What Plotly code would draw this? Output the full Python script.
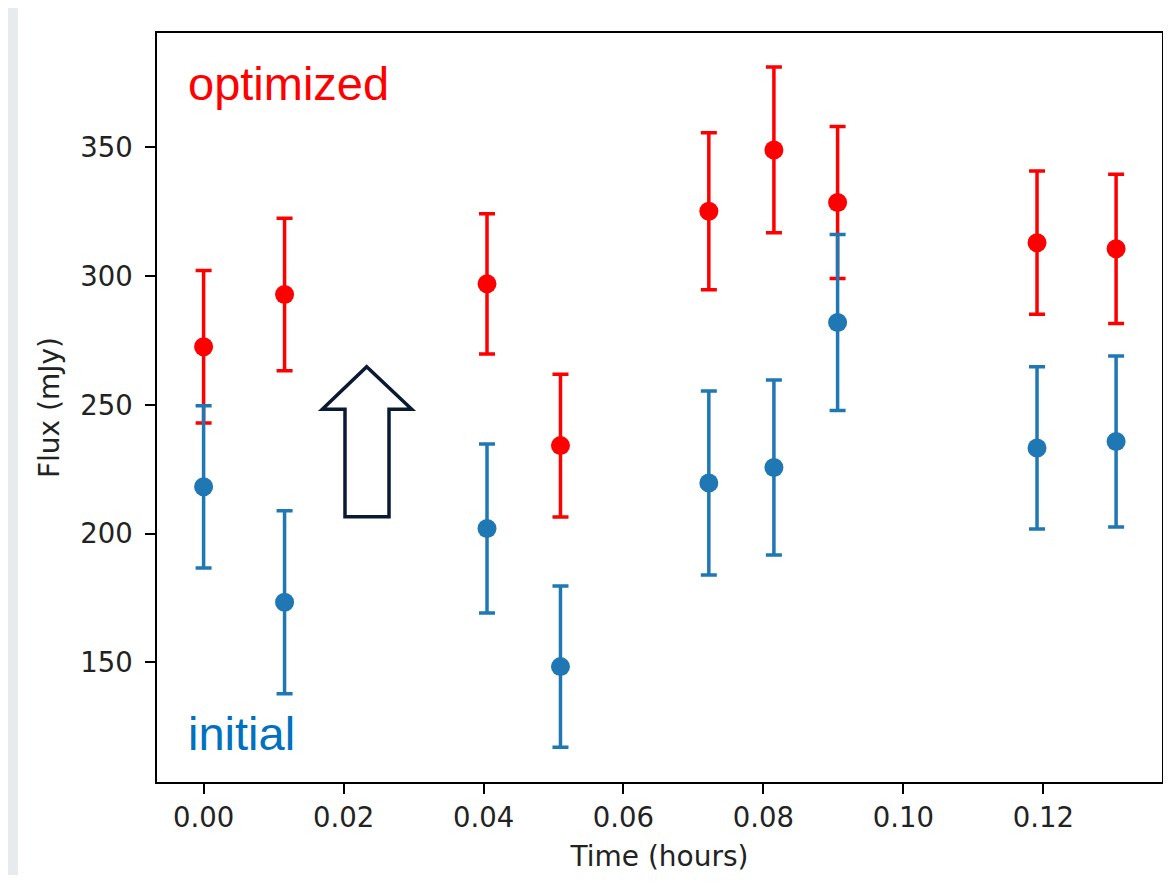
import plotly.graph_objects as go

# ---- data ----
time_opt = [0.0, 0.01157, 0.0405, 0.0510, 0.0722, 0.0815, 0.0906, 0.1191, 0.1304]
flux_opt = [272.6, 292.9, 297.0, 234.2, 325.2, 349.0, 328.6, 313.0, 310.6]
err_opt = [29.6, 29.6, 27.2, 27.7, 30.5, 32.2, 29.5, 27.8, 29.0]

time_init = [0.0, 0.01157, 0.0405, 0.0510, 0.0722, 0.0815, 0.0906, 0.1191, 0.1304]
flux_init = [218.2, 173.4, 202.0, 148.4, 219.7, 225.7, 282.0, 233.3, 235.8]
err_init = [31.5, 35.5, 32.8, 31.3, 35.7, 34.0, 34.2, 31.5, 33.2]

x_ticks = [0.00, 0.02, 0.04, 0.06, 0.08, 0.10, 0.12]
x_tick_labels = ["0.00", "0.02", "0.04", "0.06", "0.08", "0.10", "0.12"]
y_ticks = [150, 200, 250, 300, 350]

# ---- layout geometry ----
OFF = 8                      # page body margin
W, H = 1155, 867             # figure size
PL, PR, PT, PB = 157, 1162, 33, 782   # plot-area edges in page pixels
L, T = PL - OFF, PT - OFF
R = W - (PR - OFF)
B = H - (PB - OFF)
PW, PH = PR - PL, PB - PT


def px(x):
    return (x - PL) / PW


def py(y):
    return (PB - y) / PH


fig = go.Figure()

fig.add_trace(go.Scatter(
    x=time_opt, y=flux_opt, mode="markers",
    marker=dict(color="#ff0000", size=19),
    error_y=dict(type="data", array=err_opt, visible=True,
                 color="#ff0000", thickness=3.5, width=8),
    showlegend=False,
))
fig.add_trace(go.Scatter(
    x=time_init, y=flux_init, mode="markers",
    marker=dict(color="#1f77b4", size=19),
    error_y=dict(type="data", array=err_init, visible=True,
                 color="#1f77b4", thickness=3.5, width=8),
    showlegend=False,
))

# background strip (slide image edge)
fig.add_shape(type="rect", xref="paper", yref="paper",
              x0=px(OFF), x1=px(18), y0=py(OFF + H), y1=py(OFF),
              fillcolor="#e8ebee", line=dict(width=0), layer="below")

# arrow outline
pts = [(366.7, 366.7), (411.7, 409.3), (389, 409.3), (389, 516.7),
       (345, 516.7), (345, 409.3), (322.3, 409.3)]
path = "M " + " L ".join(f"{px(a):.5f},{py(b):.5f}" for a, b in pts) + " Z"
fig.add_shape(type="path", xref="paper", yref="paper", path=path,
              line=dict(color="#0b1a33", width=3.5), fillcolor="rgba(0,0,0,0)")

fig.add_annotation(text="optimized", xref="paper", yref="paper",
                   x=px(186), y=py(83.5), xanchor="left", yanchor="middle",
                   showarrow=False,
                   font=dict(family="Liberation Sans, Arial", size=47, color="#ff0000"))
fig.add_annotation(text="initial", xref="paper", yref="paper",
                   x=px(186), y=py(733.5), xanchor="left", yanchor="middle",
                   showarrow=False,
                   font=dict(family="Liberation Sans, Arial", size=47, color="#0070c0"))

axis_common = dict(
    showline=True, mirror=True, linecolor="black", linewidth=1.5,
    ticks="outside", ticklen=10, tickwidth=1.5, tickcolor="black",
    showgrid=False, zeroline=False,
    tickfont=dict(family="DejaVu Sans", size=27.5, color="#222222"),
)

fig.update_layout(
    width=W, height=H,
    margin=dict(l=L, r=R, t=T, b=B, autoexpand=False),
    paper_bgcolor="white", plot_bgcolor="white",
    xaxis=dict(range=[-0.00666, 0.13696], tickvals=x_ticks, ticktext=x_tick_labels,
               title=dict(text="Time (hours)", standoff=15,
                          font=dict(family="DejaVu Sans", size=28, color="#222222")),
               **axis_common),
    yaxis=dict(range=[103.6, 394.4], tickvals=y_ticks, ticklabelstandoff=7,
               title=dict(text="Flux (mJy)", standoff=12,
                          font=dict(family="DejaVu Sans", size=28, color="#222222")),
               **axis_common),
)

fig.write_html("out.html")
